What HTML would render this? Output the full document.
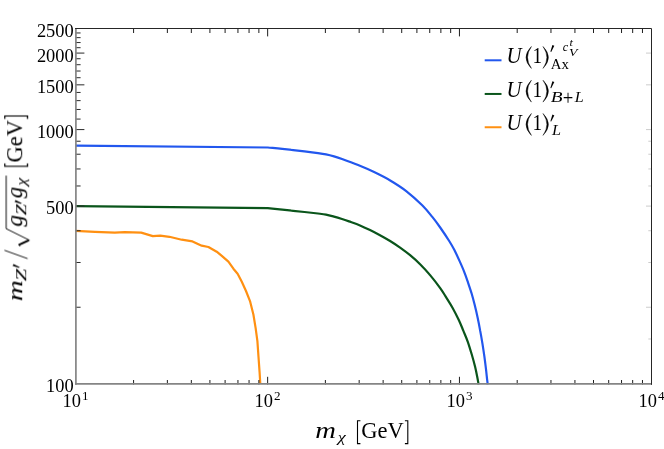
<!DOCTYPE html><html><head><meta charset="utf-8"><style>html,body{margin:0;padding:0;background:#fff}svg{display:block;will-change:transform}text{font-family:"Liberation Serif",serif;fill:#000}</style></head><body>
<svg width="664" height="449" viewBox="0 0 664 449">
<rect width="664" height="449" fill="#fff"/>
<defs><filter id="idf" x="0" y="0" width="664" height="449" filterUnits="userSpaceOnUse" color-interpolation-filters="sRGB"><feOffset dx="0" dy="0"/></filter><g id="gev"><path d="M3.5,-17.4 H0.6 V5.4 H3.5" fill="none" stroke="#000" stroke-width="1.1"/><text transform="translate(4.40,-0.15) scale(1.1253,1.1808)" font-size="20.0">GeV</text><path d="M48.0,-17.4 H50.9 V5.4 H48.0" fill="none" stroke="#000" stroke-width="1.1"/></g></defs>
<g filter="url(#idf)">
<clipPath id="c"><rect x="75.5" y="28.5" width="576.0" height="356.2"/></clipPath>
<g clip-path="url(#c)" fill="none" stroke-width="2.2" stroke-linejoin="round">
<path d="M75.8,145.6 L267.8,147.5 C272.63,147.97 276.18,148.25 282.3,148.9 C288.42,149.55 298.55,150.70 304.5,151.4 C310.45,152.10 314.42,152.60 318.0,153.1 C321.58,153.60 323.33,153.85 326.0,154.4 C328.67,154.95 331.33,155.63 334.0,156.4 C336.67,157.17 337.98,157.55 342.0,159.0 C346.02,160.45 352.75,162.92 358.1,165.1 C363.45,167.28 368.75,169.53 374.1,172.1 C379.45,174.67 384.85,177.33 390.2,180.5 C395.55,183.67 400.87,186.97 406.2,191.1 C411.53,195.23 417.85,201.00 422.2,205.3 C426.55,209.60 429.30,213.20 432.3,216.9 C435.30,220.60 437.38,223.48 440.2,227.5 C443.02,231.52 446.84,237.25 449.2,241.0 C451.56,244.75 452.63,246.68 454.4,250.0 C456.07,253.32 457.86,257.27 459.5,260.9 C461.14,264.53 462.77,268.15 464.2,271.8 C465.63,275.45 466.85,279.15 468.1,282.8 C469.35,286.45 470.62,290.07 471.7,293.7 C472.78,297.33 473.62,300.63 474.6,304.6 C475.58,308.57 476.66,313.12 477.6,317.5 C478.54,321.88 479.45,326.58 480.2,330.9 C481.05,335.22 481.72,339.23 482.4,343.4 C483.07,347.57 483.72,351.73 484.3,355.9 C484.88,360.07 485.43,364.50 485.9,368.4 C486.37,372.30 486.80,376.62 487.1,379.3 C487.40,381.98 487.50,382.77 487.7,384.5" stroke="#2257ee"/>
<path d="M75.8,206.2 L267.8,208.2 C272.63,208.70 276.18,209.07 282.3,209.7 C288.42,210.33 298.55,211.37 304.5,212.0 C310.45,212.63 314.42,213.07 318.0,213.5 C321.58,213.93 323.33,214.08 326.0,214.6 C328.67,215.12 331.33,215.87 334.0,216.6 C336.67,217.33 339.50,218.20 342.0,219.0 C344.50,219.80 346.00,220.33 349.0,221.4 C352.00,222.47 356.50,223.97 360.0,225.4 C363.50,226.83 366.67,228.37 370.0,230.0 C373.33,231.63 376.65,233.37 380.0,235.2 C383.35,237.03 386.75,238.93 390.1,241.0 C393.45,243.07 396.77,245.23 400.1,247.6 C403.43,249.97 406.77,252.43 410.1,255.2 C413.43,257.97 416.77,260.88 420.1,264.2 C423.43,267.52 426.75,271.12 430.1,275.1 C433.45,279.08 437.52,284.38 440.2,288.1 C442.88,291.82 444.15,294.13 446.2,297.4 C448.25,300.67 450.40,303.93 452.5,307.7 C454.60,311.47 456.98,316.13 458.8,320.0 C460.62,323.87 461.90,327.27 463.4,330.9 C464.90,334.53 466.42,337.90 467.8,341.8 C469.18,345.70 470.48,350.13 471.7,354.3 C472.92,358.47 474.15,362.90 475.1,366.8 C476.05,370.70 476.82,374.75 477.4,377.7 C477.98,380.65 478.20,382.23 478.6,384.5" stroke="#0a551b"/>
<path d="M75.8,230.8 L94.9,231.8 L114.7,232.6 L124.7,232.1 L141.2,232.6 L152.8,236.1 L160.3,235.6 L169.4,236.8 L181.7,239.7 L192.5,241.4 L201.7,245.7 L208.4,247.0 L216.7,251.7 L221.8,255.9 L228.4,261.7 L233.4,268.7 L237.6,273.7 L241.8,281.8 L246.0,291.0 L250.0,301.1 L253.4,314.5 L255.6,327.9 L257.4,341.2 L258.5,356.8 L259.6,372.4 L260.3,383.7" stroke="#ff9012"/>
</g>
<path d="M75.5,307.24H80.6 M75.5,262.49H80.6 M75.5,230.73H80.6 M75.5,206.1H84.4 M75.5,185.98H80.6 M75.5,168.96H80.6 M75.5,154.22H80.6 M75.5,141.22H80.6 M75.5,129.59H84.4 M75.5,119.07H80.6 M75.5,109.47H80.6 M75.5,100.63H80.6 M75.5,92.45H80.6 M75.5,84.84H84.4 M75.5,77.71H80.6 M75.5,71.02H80.6 M75.5,64.71H80.6 M75.5,58.74H80.6 M75.5,53.08H84.4 M75.5,47.7H80.6 M75.5,42.56H80.6 M75.5,37.65H80.6 M75.5,32.96H80.6" stroke="#2a2a2a" stroke-width="1" fill="none"/>
<path d="M651.5,307.24h-5.5 M651.5,206.1h-5.5 M651.5,129.59h-5.5 M651.5,84.84h-5.5 M651.5,53.08h-5.5 M651.5,338.99h-3.2 M651.5,262.49h-3.2 M651.5,230.73h-3.2 M651.5,185.98h-3.2 M651.5,168.96h-3.2 M651.5,154.22h-3.2 M651.5,141.22h-3.2" stroke="#cccccc" stroke-width="1" fill="none"/>
<path d="M133.59,384.5V380.0 M167.36,384.5V380.0 M191.33,384.5V380.0 M209.91,384.5V380.0 M225.1,384.5V380.0 M237.94,384.5V380.0 M249.06,384.5V380.0 M258.87,384.5V380.0 M267.65,384.5V376.8 M325.39,384.5V380.0 M359.16,384.5V380.0 M383.13,384.5V380.0 M401.71,384.5V380.0 M416.9,384.5V380.0 M429.74,384.5V380.0 M440.86,384.5V380.0 M450.67,384.5V380.0 M459.45,384.5V376.8 M517.19,384.5V380.0 M550.96,384.5V380.0 M574.93,384.5V380.0 M593.51,384.5V380.0 M608.7,384.5V380.0 M621.54,384.5V380.0 M632.66,384.5V380.0 M642.47,384.5V380.0" stroke="#1e1e1e" stroke-width="1" fill="none"/>
<path d="M133.59,28.5V33.0 M167.36,28.5V33.0 M191.33,28.5V33.0 M209.91,28.5V33.0 M225.1,28.5V33.0 M237.94,28.5V33.0 M249.06,28.5V33.0 M258.87,28.5V33.0 M267.65,28.5V36.4 M325.39,28.5V33.0 M359.16,28.5V33.0 M383.13,28.5V33.0 M401.71,28.5V33.0 M416.9,28.5V33.0 M429.74,28.5V33.0 M440.86,28.5V33.0 M450.67,28.5V33.0 M459.45,28.5V36.4 M517.19,28.5V33.0 M550.96,28.5V33.0 M574.93,28.5V33.0 M593.51,28.5V33.0 M608.7,28.5V33.0 M621.54,28.5V33.0 M632.66,28.5V33.0 M642.47,28.5V33.0" stroke="#1e1e1e" stroke-width="1" fill="none"/>
<path d="M75.9,28.5V384.8" stroke="#858585" stroke-width="1.7" fill="none"/>
<path d="M75.05,383.9H652" stroke="#858585" stroke-width="1.8" fill="none"/>
<path d="M75.05,28.5H651.5V384.8" stroke="#262626" stroke-width="1" fill="none"/>
<text x="73.7" y="391.9" font-size="18.4" text-anchor="end">100</text>
<text x="73.7" y="214.4" font-size="18.4" text-anchor="end">500</text>
<text x="73.7" y="138.0" font-size="18.4" text-anchor="end">1000</text>
<text x="73.7" y="93.2" font-size="18.4" text-anchor="end">1500</text>
<text x="73.7" y="61.5" font-size="18.4" text-anchor="end">2000</text>
<text x="73.7" y="36.9" font-size="18.4" text-anchor="end">2500</text>
<text x="62.6" y="407.3" font-size="18.4">10</text>
<text x="81.9" y="400.2" font-size="13.1">1</text>
<text x="254.6" y="407.3" font-size="18.4">10</text>
<text x="273.9" y="400.2" font-size="13.1">2</text>
<text x="446.6" y="407.3" font-size="18.4">10</text>
<text x="465.9" y="400.2" font-size="13.1">3</text>
<text x="638.6" y="407.3" font-size="18.4">10</text>
<text x="657.9" y="400.2" font-size="13.1">4</text>
<text transform="translate(315.33,438.10) scale(1.4319,1.1064)" font-size="20.0" font-style="italic">m</text>
<text transform="translate(337.75,441.50) scale(0.9074,0.7063)" font-size="20.0" font-style="italic">χ</text>
<use href="#gev" transform="translate(356.9,438.2)"/>
<g transform="translate(22.2,299.5) rotate(-90)">
<text transform="translate(-1.70,0.30) scale(1.4630,1.0851)" font-size="20.0" font-style="italic">m</text>
<text transform="translate(18.32,3.60) scale(1.1222,0.7557)" font-size="20.0" font-style="italic">Z</text>
<path d="M33.60,-9.60 L35.50,-8.80 L32.40,-2.60 L31.60,-3.00Z" fill="#000"/>
<path d="M40.9,5.4 L49.2,-17.7" stroke="#000" stroke-width="0.9" fill="none"/>
<path d="M53.0,-1.9 L55.0,-3.6" stroke="#000" stroke-width="0.8" fill="none"/>
<path d="M54.6,-3.4 L59.2,6.6" stroke="#000" stroke-width="2" fill="none"/>
<path d="M59.2,7.4 L70.8,-16.0 H123.9" stroke="#000" stroke-width="0.95" fill="none"/>
<text transform="translate(72.80,-0.09) scale(1.1809,1.1282)" font-size="20.0" font-style="italic">g</text>
<text transform="translate(84.15,4.40) scale(0.9955,0.7099)" font-size="20.0" font-style="italic">Z</text>
<path d="M97.60,-7.60 L99.50,-6.80 L96.40,-0.60 L95.60,-1.00Z" fill="#000"/>
<text transform="translate(101.30,-0.09) scale(1.1383,1.1282)" font-size="20.0" font-style="italic">g</text>
<text transform="translate(113.85,3.68) scale(0.9074,0.7807)" font-size="20.0" font-style="italic">χ</text>
<use href="#gev" transform="translate(132.6,0)"/>
</g>
<path d="M484.7,60.3H501.5" stroke="#2257ee" stroke-width="2" fill="none"/>
<path d="M484.7,93.95H501.5" stroke="#0a551b" stroke-width="2" fill="none"/>
<path d="M484.7,127.25H501.5" stroke="#ff9012" stroke-width="2" fill="none"/>
<text transform="translate(506.38,63.17) scale(1.0403,1.1278)" font-size="20.0" font-style="italic">U</text>
<path d="M531.4,46.5 Q520.60,57.45 531.4,68.4 Q523.60,57.45 531.4,46.5Z" fill="#000" stroke="#000" stroke-width="0.45"/>
<text transform="translate(532.51,63.20) scale(0.9645,1.1061)" font-size="20.0">1</text>
<path d="M543.0,46.5 Q553.80,57.45 543.0,68.4 Q550.80,57.45 543.0,46.5Z" fill="#000" stroke="#000" stroke-width="0.45"/>
<path d="M552.40,45.00 L554.30,45.80 L551.20,52.00 L550.40,51.60Z" fill="#000"/>
<text transform="translate(506.38,96.87) scale(1.0403,1.1278)" font-size="20.0" font-style="italic">U</text>
<path d="M531.4,80.2 Q520.60,91.15 531.4,102.10000000000001 Q523.60,91.15 531.4,80.2Z" fill="#000" stroke="#000" stroke-width="0.45"/>
<text transform="translate(532.51,96.90) scale(0.9645,1.1061)" font-size="20.0">1</text>
<path d="M543.0,80.2 Q553.80,91.15 543.0,102.10000000000001 Q550.80,91.15 543.0,80.2Z" fill="#000" stroke="#000" stroke-width="0.45"/>
<path d="M552.40,81.30 L554.30,82.10 L551.20,88.30 L550.40,87.90Z" fill="#000"/>
<text transform="translate(506.38,130.17) scale(1.0403,1.1278)" font-size="20.0" font-style="italic">U</text>
<path d="M531.4,113.49999999999999 Q520.60,124.44999999999999 531.4,135.39999999999998 Q523.60,124.44999999999999 531.4,113.49999999999999Z" fill="#000" stroke="#000" stroke-width="0.45"/>
<text transform="translate(532.51,130.20) scale(0.9645,1.1061)" font-size="20.0">1</text>
<path d="M543.0,113.49999999999999 Q553.80,124.44999999999999 543.0,135.39999999999998 Q550.80,124.44999999999999 543.0,113.49999999999999Z" fill="#000" stroke="#000" stroke-width="0.45"/>
<path d="M552.40,114.60 L554.30,115.40 L551.20,121.60 L550.40,121.20Z" fill="#000"/>
<text transform="translate(550.85,68.90) scale(0.7417,0.7576)" font-size="20.0">Ax</text>
<text transform="translate(550.81,101.66) scale(0.9655,0.7605)" font-size="20.0" font-style="italic">B</text>
<text transform="translate(562.86,105.01) scale(0.9355,1.0538)" font-size="20.0">+</text>
<text transform="translate(574.80,101.70) scale(0.8077,0.7634)" font-size="20.0" font-style="italic">L</text>
<text transform="translate(551.90,134.90) scale(0.8077,0.7634)" font-size="20.0" font-style="italic">L</text>
<text transform="translate(562.63,50.88) scale(0.6087,0.6042)" font-size="20.0" font-style="italic">c</text>
<text transform="translate(569.45,46.09) scale(0.6139,0.5565)" font-size="20.0" font-style="italic">t</text>
<text transform="translate(568.98,55.65) scale(0.6870,0.5149)" font-size="20.0" font-style="italic">V</text>
</g></svg></body></html>
